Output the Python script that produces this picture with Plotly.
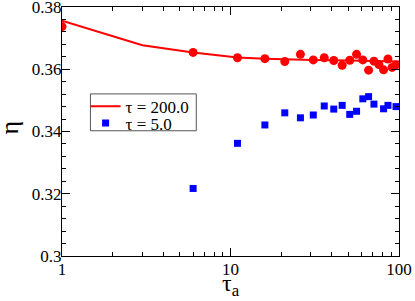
import plotly.graph_objects as go

tau_a = [1, 6, 11, 16, 21, 26, 31, 36, 41, 46, 51, 56, 61, 66, 71, 76, 81, 86, 91, 96]
eta_200 = [0.3737, 0.3654, 0.3637, 0.3634, 0.3625, 0.3648, 0.3630, 0.3637, 0.3628, 0.3613,
           0.3629, 0.3648, 0.3630, 0.3597, 0.3626, 0.3615, 0.3598, 0.3633, 0.3606, 0.3614]

fit_x = [1, 3, 6, 11, 16, 21, 31, 51, 71, 100]
fit_200 = [0.3756, 0.3677, 0.3654, 0.3638, 0.3634, 0.3632, 0.3630, 0.3628, 0.3627, 0.3625]

tau_a_5 = [6, 11, 16, 21, 26, 31, 36, 41, 46, 51, 56, 61, 66, 71, 81, 86, 96]
eta_5 = [0.3217, 0.3362, 0.3421, 0.3460, 0.3444, 0.3453, 0.3482, 0.3472, 0.3484, 0.3455,
         0.3465, 0.3505, 0.3512, 0.3488, 0.3473, 0.3484, 0.3480]

x_ticks = [1, 10, 100]
x_minor = [2, 3, 4, 5, 6, 7, 8, 9, 20, 30, 40, 50, 60, 70, 80, 90]
y_ticks = [0.30, 0.32, 0.34, 0.36, 0.38]
y_tick_text = ["0.3", "0.32", "0.34", "0.36", "0.38"]

FONT = "Liberation Serif, Times New Roman, DejaVu Serif, serif"

fig = go.Figure()
fig.add_trace(go.Scatter(x=fit_x, y=fit_200, mode="lines", line=dict(color="#ff0000", width=2),
                         name="τ = 200.0", showlegend=True, legend="legend"))
fig.add_trace(go.Scatter(x=tau_a, y=eta_200, mode="markers",
                         marker=dict(symbol="circle", size=9, color="#ff0000"),
                         showlegend=False))
fig.add_trace(go.Scatter(x=tau_a_5, y=eta_5, mode="markers",
                         marker=dict(symbol="square", size=7, color="#0000ff"),
                         name="τ = 5.0", legend="legend2"))

axis_common = dict(showgrid=False, zeroline=False, showline=True, linecolor="black", linewidth=1,
                   mirror="ticks", ticks="inside", tickcolor="black", ticklen=8, tickwidth=1,
                   automargin=False, ticklabeloverflow="allow",
                   tickfont=dict(family=FONT, size=17, color="black"))

fig.update_xaxes(type="log", range=[0, 2], tickvals=x_ticks, ticktext=["1", "10", "100"],
                 minor=dict(tickvals=x_minor, ticks="inside", ticklen=4, tickcolor="black"),
                 ticklabelstandoff=-2, **axis_common)
fig.update_yaxes(range=[0.30, 0.38], tickvals=y_ticks, ticktext=y_tick_text,
                 minor=dict(dtick=0.004, tick0=0.30, ticks="inside", ticklen=4, tickcolor="black"),
                 ticklabelstandoff=-4, **axis_common)

fig.add_annotation(text="η", xref="paper", yref="paper", x=-0.155, y=0.515, showarrow=False,
                   textangle=-90, font=dict(family=FONT, size=26, color="black"),
                   xanchor="center", yanchor="middle")
fig.add_annotation(text="τ<sub>a</sub>", xref="paper", yref="paper", x=0.50, y=-0.05, showarrow=False,
                   font=dict(family=FONT, size=24, color="black"),
                   xanchor="center", yanchor="top")

# legend frame
fig.add_shape(type="rect", xref="paper", yref="paper", x0=0.0844, x1=0.3985, y0=0.503, y1=0.651,
              line=dict(color="#555555", width=1), fillcolor="rgba(0,0,0,0)")

leg_common = dict(xanchor="left", yanchor="top", bgcolor="rgba(0,0,0,0)", borderwidth=0,
                  font=dict(family=FONT, size=17, color="black"), itemwidth=30)

fig.update_layout(
    width=415, height=301,
    margin=dict(l=61.5, r=16, t=7, b=44.5),
    paper_bgcolor="white", plot_bgcolor="white",
    showlegend=True,
    legend=dict(x=0.07, y=0.672, **leg_common),
    legend2=dict(x=0.07, y=0.605, **leg_common),
)

fig.write_html("out.html", config={"displayModeBar": False},
               post_script="document.body.style.margin='0px';")
